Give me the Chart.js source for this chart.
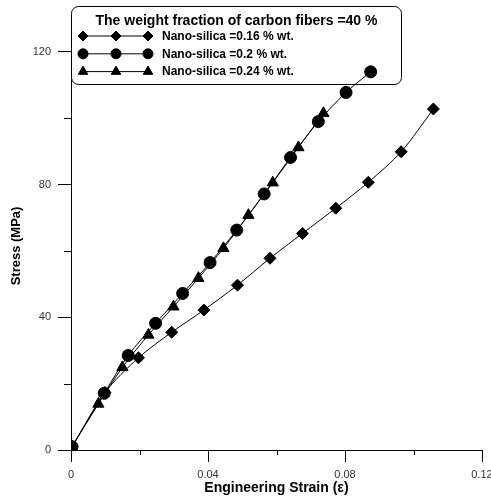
<!DOCTYPE html>
<html>
<head>
<meta charset="utf-8">
<script src="https://cdn.jsdelivr.net/npm/chart.js@4/dist/chart.umd.min.js"></script>
<style>
  html, body { margin: 0; padding: 0; background: #fff; }
  canvas { display: block; }
</style>
</head>
<body>
<canvas id="stress-chart" width="491" height="502"></canvas>
<script>
const FONT = '"Liberation Sans", Arial, sans-serif';

const legendTitle = 'The weight fraction of carbon fibers =40 %';
const seriesLabels = ['Nano-silica =0.16 % wt.', 'Nano-silica =0.2 % wt.', 'Nano-silica =0.24 % wt.'];
const seriesMarkers = ['rectRot', 'circle', 'triangle'];
const markerSizes = [6, 6, 6.5];

// engineering strain / stress (MPa)
const strain016 = [0.0003, 0.0099, 0.0197, 0.0294, 0.0388, 0.0486, 0.0581, 0.0676, 0.0773, 0.0868, 0.0964, 0.1058];
const stress016 = [1, 17.3, 27.8, 35.5, 42.2, 49.7, 57.8, 65.3, 72.9, 80.7, 89.9, 102.8];
const strain02 = [0.0003, 0.0097, 0.0167, 0.0247, 0.0326, 0.0406, 0.0484, 0.0564, 0.0641, 0.0722, 0.0803, 0.0875];
const stress02 = [1, 17.1, 28.5, 38.2, 47.2, 56.5, 66.3, 77.2, 88.2, 99.0, 107.8, 114.0];
const strain024 = [0.0003, 0.0080, 0.0150, 0.0226, 0.0299, 0.0372, 0.0445, 0.0518, 0.0589, 0.0664, 0.0737];
const stress024 = [1, 13.9, 24.9, 34.7, 43.2, 51.8, 60.8, 70.8, 80.6, 91.2, 101.5];

const xTicks = [0, 0.04, 0.08, 0.12];
const xMinorTicks = [0.02, 0.06, 0.1];
const yTicks = [0, 40, 80, 120];
const yMinorTicks = [20, 60, 100];

const series = [
  [strain016, stress016],
  [strain02, stress02],
  [strain024, stress024],
];

const datasets = series.map(([xs, ys], idx) => ({
  label: seriesLabels[idx],
  data: xs.map((x, i) => ({ x, y: ys[i] })),
  borderColor: '#000',
  backgroundColor: '#000',
  borderWidth: 1,
  pointStyle: seriesMarkers[idx],
  pointRadius: markerSizes[idx],
  pointBorderWidth: 1,
  tension: 0.3,
  fill: false,
}));

function drawMarker(ctx, style, r, x, y) {
  ctx.beginPath();
  if (style === 'circle') {
    ctx.arc(x, y, r, 0, Math.PI * 2);
  } else if (style === 'rectRot') {
    ctx.moveTo(x, y - r); ctx.lineTo(x + r, y); ctx.lineTo(x, y + r); ctx.lineTo(x - r, y);
  } else {
    ctx.moveTo(x, y - r);
    ctx.lineTo(x + r * Math.sin(Math.PI / 3), y + r / 2);
    ctx.lineTo(x - r * Math.sin(Math.PI / 3), y + r / 2);
  }
  ctx.closePath();
  ctx.fill();
  ctx.stroke();
}

const minorTicks = {
  id: 'minor_ticks',
  afterDraw(chart) {
    const { ctx, scales: { x, y } } = chart;
    ctx.save();
    ctx.strokeStyle = '#000';
    ctx.lineWidth = 1;
    ctx.beginPath();
    xMinorTicks.forEach(v => {
      const px = Math.round(x.getPixelForValue(v)) + 0.5;
      ctx.moveTo(px, y.bottom);
      ctx.lineTo(px, y.bottom + 5);
    });
    yMinorTicks.forEach(v => {
      const py = Math.round(y.getPixelForValue(v)) + 0.5;
      ctx.moveTo(x.left - 7, py);
      ctx.lineTo(x.left, py);
    });
    ctx.stroke();
    ctx.restore();
  }
};

// legend box sits over the axis but under the data (top circle overlaps it)
const boxLegend = {
  id: 'box_legend',
  beforeDatasetsDraw(chart) {
    const ctx = chart.ctx;
    const left = 71.5, top = 6.5, w = 330, h = 78, r = 7;
    ctx.save();
    ctx.beginPath();
    ctx.roundRect(left, top, w, h, r);
    ctx.fillStyle = '#fff';
    ctx.fill();
    ctx.strokeStyle = '#000';
    ctx.lineWidth = 1;
    ctx.stroke();

    ctx.fillStyle = '#000';
    ctx.font = `bold 14px ${FONT}`;
    ctx.textAlign = 'center';
    ctx.textBaseline = 'middle';
    ctx.fillText(legendTitle, left + w / 2, 21);

    ctx.font = `bold 12px ${FONT}`;
    ctx.textAlign = 'left';
    chart.data.datasets.forEach((ds, idx) => {
      const y = 36 + idx * 17.8;
      ctx.beginPath();
      ctx.moveTo(83, y);
      ctx.lineTo(148, y);
      ctx.stroke();
      [83, 116, 148].forEach(mx => drawMarker(ctx, ds.pointStyle, ds.pointRadius - 1, mx, y));
      ctx.fillText(ds.label, 162, y + 0.5);
    });
    ctx.restore();
  }
};

new Chart(document.getElementById('stress-chart'), {
  type: 'line',
  data: { datasets },
  options: {
    responsive: false,
    animation: false,
    layout: { padding: { top: 42, right: 9, bottom: 0, left: 0 } },
    plugins: {
      legend: { display: false },
      tooltip: { enabled: false }
    },
    scales: {
      x: {
        type: 'linear',
        min: 0,
        max: 0.12,
        afterBuildTicks: s => { s.ticks = xTicks.map(value => ({ value })); },
        afterFit: s => { s.height = 52; s.paddingLeft = 0; s.paddingRight = 0; },
        border: { color: '#000', width: 1 },
        grid: { drawOnChartArea: false, tickLength: 12, color: '#000' },
        ticks: {
          padding: 6,
          maxRotation: 0,
          color: '#333',
          font: { family: FONT, size: 11 },
          callback: v => String(+v.toFixed(2))
        },
        title: {
          display: true,
          text: 'Engineering Strain (ε)',
          color: '#000',
          font: { family: FONT, size: 14, weight: 'bold' },
          padding: { top: 0, bottom: 5 }
        }
      },
      y: {
        type: 'linear',
        min: 0,
        max: 123,
        afterBuildTicks: s => { s.ticks = yTicks.map(value => ({ value })); },
        afterFit: s => { s.width = 71; s.paddingTop = 0; s.paddingBottom = 0; },
        border: { color: '#000', width: 1 },
        grid: { drawOnChartArea: false, tickLength: 13, color: '#000' },
        ticks: {
          padding: 7,
          color: '#333',
          font: { family: FONT, size: 11 }
        },
        title: {
          display: true,
          text: 'Stress (MPa)',
          color: '#000',
          font: { family: FONT, size: 13, weight: 'bold' },
          padding: { top: 9, bottom: 0 }
        }
      }
    }
  },
  plugins: [minorTicks, boxLegend]
});
</script>
</body>
</html>
